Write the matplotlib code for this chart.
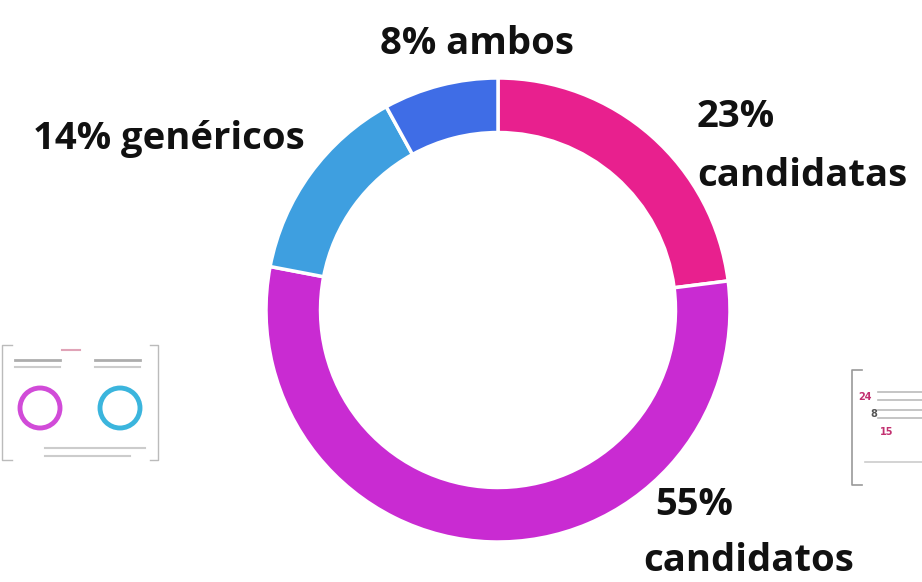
import matplotlib
matplotlib.use("Agg")
import matplotlib.pyplot as plt
from matplotlib.patches import Circle

categories = ["candidatas", "candidatos", "genéricos", "ambos"]
values = [23, 55, 14, 8]
colors = ["#E8208E", "#C92BD2", "#3E9FE0", "#3F6DE6"]
pct_labels = ["23%", "55%", "14%", "8%"]

W, H = 922, 582
fig = plt.figure(figsize=(W / 100, H / 100), dpi=100)
fig.patch.set_facecolor("white")

# donut axes: center (498, 310) px, outer radius 232 px
cx, cy, R = 498, 310, 232
ax = fig.add_axes([(cx - R) / W, (H - cy - R) / H, 2 * R / W, 2 * R / H])
ax.pie(values, colors=colors, startangle=90, counterclock=False,
       wedgeprops=dict(width=0.235, edgecolor="white", linewidth=2.5))
ax.set_xlim(-1, 1)
ax.set_ylim(-1, 1)
ax.set_aspect("auto")
ax.axis("off")

font = dict(family=["Open Sans", "DejaVu Sans"], fontweight="bold",
            fontsize=27.5, color="#111111")

def px(x, y):
    return x / W, 1 - y / H

fig.text(*px(477, 44), f"{pct_labels[3]} {categories[3]}", ha="center", va="center", **font)
fig.text(*px(33, 139), f"{pct_labels[2]} {categories[2]}", ha="left", va="center", **font)
fig.text(*px(697, 117), pct_labels[0], ha="left", va="center", **font)
fig.text(*px(697, 176), categories[0], ha="left", va="center", **font)
fig.text(*px(655, 505), pct_labels[1], ha="left", va="center", **font)
fig.text(*px(643, 561), categories[1], ha="left", va="center", **font)

# decorative thumbnails (faint)
tax = fig.add_axes([0, 1 - 465 / H, 162 / W, 125 / H])
tax.set_xlim(0, 162)
tax.set_ylim(125, 0)
tax.axis("off")
tax.plot([12, 2, 2, 12], [5, 5, 120, 120], color="#bbbbbb", lw=1)
tax.plot([150, 158, 158, 150], [5, 5, 120, 120], color="#bbbbbb", lw=1)
tax.plot([62, 80], [10, 10], color="#cc6688", lw=1.5, alpha=0.6)
for i, c in enumerate(["#C92BD2", "#19A8D8"]):
    tax.add_patch(Circle((40 + i * 80, 68), 20, fill=False, ec=c, lw=3.5, alpha=0.85))
    tax.plot([15 + i * 80, 60 + i * 80], [20, 20], color="#777777", lw=2, alpha=0.6)
    tax.plot([15 + i * 80, 60 + i * 80], [27, 27], color="#aaaaaa", lw=1.5, alpha=0.6)
tax.plot([45, 145], [108, 108], color="#aaaaaa", lw=1.5, alpha=0.6)
tax.plot([45, 130], [116, 116], color="#aaaaaa", lw=1.5, alpha=0.6)

rax = fig.add_axes([850 / W, 1 - 490 / H, 72 / W, 140 / H])
rax.set_xlim(0, 72)
rax.set_ylim(140, 0)
rax.axis("off")
rax.plot([12, 2, 2, 12], [20, 20, 135, 135], color="#999999", lw=1.2)
rax.text(8, 47, "24", color="#c23070", fontsize=7, fontweight="bold", va="center")
rax.text(20, 64, "8", color="#555555", fontsize=7, fontweight="bold", va="center")
rax.text(30, 82, "15", color="#c23070", fontsize=7, fontweight="bold", va="center")
for yy in (42, 50, 60, 68):
    rax.plot([28, 72], [yy, yy], color="#bbbbbb", lw=1.2)
rax.plot([15, 72], [112, 112], color="#cccccc", lw=1.2)

fig.savefig("out.png", dpi=100, facecolor="white")
